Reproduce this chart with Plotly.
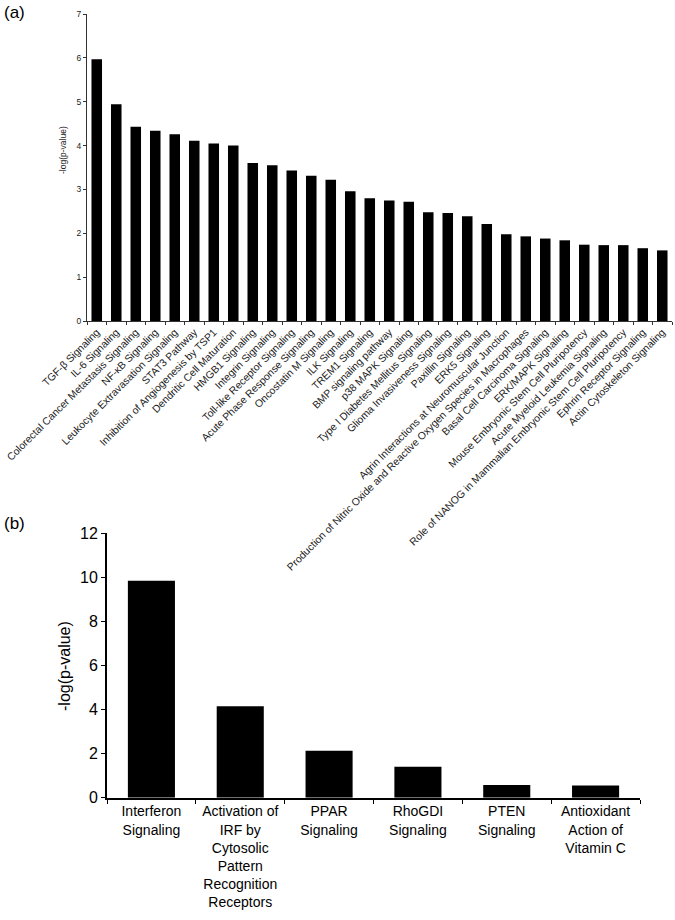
import plotly.graph_objects as go

# ---- data: panel (a) ----
cats_a = [
    "TGF-β Signaling", "IL-6 Signaling", "Colorectal Cancer Metastasis Signaling",
    "NF-κB Signaling", "Leukocyte Extravasation Signaling", "STAT3 Pathway",
    "Inhibition of Angiogenesis by TSP1", "Dendritic Cell Maturation",
    "HMGB1 Signaling", "Integrin Signaling", "Toll-like Receptor Signaling",
    "Acute Phase Response Signaling", "Oncostatin M Signaling", "ILK Signaling",
    "TREM1 Signaling", "BMP signaling pathway", "p38 MAPK Signaling",
    "Type I Diabetes Mellitus Signaling", "Glioma Invasiveness Signaling",
    "Paxillin Signaling", "ERK5 Signaling",
    "Agrin Interactions at Neuromuscular Junction",
    "Production of Nitric Oxide and Reactive Oxygen Species in Macrophages",
    "Basal Cell Carcinoma Signaling", "ERK/MAPK Signaling",
    "Mouse Embryonic Stem Cell Pluripotency", "Acute Myeloid Leukemia Signaling",
    "Role of NANOG in Mammalian Embryonic Stem Cell Pluripotency",
    "Ephrin Receptor Signaling", "Actin Cytoskeleton Signaling",
]
vals_a = [5.97, 4.94, 4.43, 4.34, 4.26, 4.11, 4.05, 4.00, 3.60, 3.55,
          3.43, 3.31, 3.22, 2.96, 2.80, 2.75, 2.72, 2.48, 2.46, 2.39,
          2.21, 1.98, 1.93, 1.88, 1.84, 1.74, 1.73, 1.73, 1.66, 1.61]
ticks_a = [0, 1, 2, 3, 4, 5, 6, 7]

# ---- data: panel (b) ----
cats_b = [
    "Interferon<br>Signaling",
    "Activation of<br>IRF by<br>Cytosolic<br>Pattern<br>Recognition<br>Receptors",
    "PPAR<br>Signaling", "RhoGDI<br>Signaling", "PTEN<br>Signaling",
    "Antioxidant<br>Action of<br>Vitamin C",
]
vals_b = [9.85, 4.15, 2.13, 1.41, 0.58, 0.55]
ticks_b = [0, 2, 4, 6, 8, 10, 12]

W, H = 675, 920
FONT = "Liberation Sans Narrow, Arial Narrow, Liberation Sans, Arial, sans-serif"

fig = go.Figure()
fig.add_trace(go.Bar(x=cats_a, y=vals_a, marker_color="black",
                     marker_line_width=0, width=0.54,
                     xaxis="x", yaxis="y", showlegend=False))
fig.add_trace(go.Bar(x=cats_b, y=vals_b, marker_color="black",
                     marker_line_width=0, width=0.53,
                     xaxis="x2", yaxis="y2", showlegend=False))

fig.update_layout(
    width=W, height=H,
    margin=dict(l=0, r=0, t=0, b=0),
    paper_bgcolor="white", plot_bgcolor="white",
    font=dict(family="Liberation Sans, Arial, sans-serif", color="#111"),
    xaxis=dict(domain=[87 / W, 672 / W], anchor="y", type="category",
               tickangle=-45, tickson="boundaries", ticks="outside",
               ticklen=3, tickcolor="#333", showline=True, linecolor="#333",
               linewidth=1.2, tickfont=dict(size=10.4, color="#1a1a1a", family=FONT),
               showgrid=False, automargin=False),
    yaxis=dict(domain=[1 - 321 / H, 1 - 14 / H], anchor="x", range=[0, 7],
               tickvals=ticks_a, ticks="outside", ticklen=3, tickcolor="#333",
               showline=True, linecolor="#333", linewidth=1.2,
               tickfont=dict(size=8.5, color="#222"), showgrid=False,
               zeroline=False, automargin=False),
    xaxis2=dict(domain=[107 / W, 640 / W], anchor="y2", type="category",
                tickangle=0, tickson="boundaries", ticks="outside",
                ticklen=4, tickcolor="black", showline=True, linecolor="black",
                linewidth=1.8, tickfont=dict(size=14, color="black", family=FONT),
                showgrid=False, automargin=False),
    yaxis2=dict(domain=[1 - 797.7 / H, 1 - 533.3 / H], anchor="x2",
                range=[0, 12], tickvals=ticks_b, ticks="outside", ticklen=4,
                tickcolor="black", showline=True, linecolor="black",
                linewidth=1.8, tickfont=dict(size=16, color="black"),
                showgrid=False, zeroline=False, automargin=False),
    annotations=[
        dict(text="(a)", x=2 / W, y=1 - 12 / H, xref="paper", yref="paper",
             xanchor="left", yanchor="middle", showarrow=False,
             font=dict(size=17, color="black")),
        dict(text="(b)", x=2 / W, y=1 - 523 / H, xref="paper", yref="paper",
             xanchor="left", yanchor="middle", showarrow=False,
             font=dict(size=17, color="black")),
        dict(text="-log(p-value)", x=63 / W, y=1 - 150 / H, xref="paper",
             yref="paper", xanchor="center", yanchor="middle", textangle=-90,
             showarrow=False, font=dict(size=8.5, color="#222")),
        dict(text="-log(p-value)", x=64 / W, y=1 - 666 / H, xref="paper",
             yref="paper", xanchor="center", yanchor="middle", textangle=-90,
             showarrow=False, font=dict(size=16, color="black", family=FONT)),
    ],
)

fig.write_html("out.html", config={"displayModeBar": False},
               post_script="document.body.style.margin='0';")
